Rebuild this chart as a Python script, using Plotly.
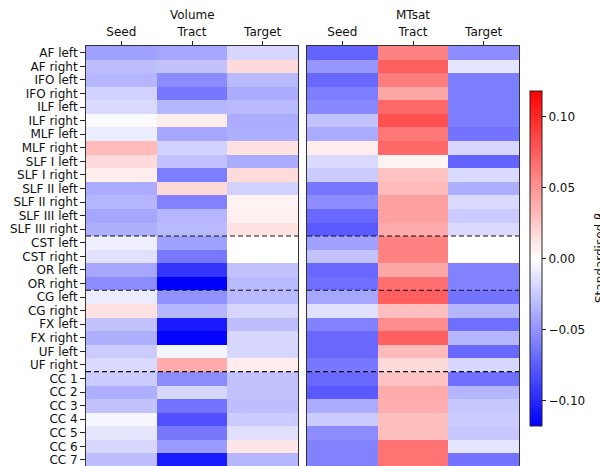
import plotly.graph_objects as go

rows = ["AF left", "AF right", "IFO left", "IFO right", "ILF left", "ILF right",
        "MLF left", "MLF right", "SLF I left", "SLF I right", "SLF II left",
        "SLF II right", "SLF III left", "SLF III right", "CST left", "CST right",
        "OR left", "OR right", "CG left", "CG right", "FX left", "FX right",
        "UF left", "UF right", "CC 1", "CC 2", "CC 3", "CC 4", "CC 5", "CC 6", "CC 7"]
columns = ["Seed", "Tract", "Target"]
panel_titles = ["Volume", "MTsat"]

volume_seed = [-0.044, -0.030, -0.034, -0.021, -0.017, -0.002, -0.009, 0.032, 0.017, 0.008,
               -0.039, -0.034, -0.041, -0.037, -0.008, -0.014, -0.041, -0.053, -0.009, 0.014,
               -0.028, -0.037, -0.024, -0.017, -0.024, -0.037, -0.028, -0.004, -0.012, -0.019, -0.030]
volume_tract = [-0.041, -0.028, -0.053, -0.063, -0.034, 0.009, -0.041, -0.021, -0.028, -0.060,
                0.018, -0.058, -0.034, -0.032, -0.044, -0.063, -0.094, -0.118, -0.051, -0.034,
                -0.106, -0.116, -0.005, 0.039, -0.053, -0.019, -0.065, -0.081, -0.063, -0.046, -0.106]
volume_target = [-0.019, 0.017, -0.032, -0.039, -0.032, -0.039, -0.037, 0.014, -0.039, 0.017,
                 -0.021, 0.005, 0.007, 0.013, 0.000, 0.000, -0.028, -0.032, -0.032, -0.019,
                 -0.030, -0.019, -0.019, 0.009, -0.028, -0.028, -0.030, -0.024, -0.014, 0.012, -0.034]

mtsat_seed = [-0.072, -0.048, -0.070, -0.060, -0.055, -0.028, -0.039, 0.009, -0.017, -0.024,
              -0.063, -0.053, -0.070, -0.077, -0.044, -0.028, -0.070, -0.067, -0.041, -0.014,
              -0.058, -0.070, -0.070, -0.063, -0.070, -0.077, -0.039, -0.024, -0.053, -0.058, -0.058]
mtsat_tract = [0.058, 0.074, 0.060, 0.041, 0.070, 0.081, 0.063, 0.070, 0.005, 0.028,
               0.032, 0.044, 0.044, 0.039, 0.058, 0.058, 0.041, 0.067, 0.074, 0.030,
               0.053, 0.074, 0.032, 0.017, 0.028, 0.039, 0.037, 0.030, 0.030, 0.065, 0.065]
mtsat_target = [-0.053, -0.012, -0.060, -0.060, -0.060, -0.060, -0.065, -0.019, -0.072, -0.017,
                -0.037, -0.017, -0.024, -0.017, 0.000, 0.000, -0.058, -0.058, -0.065, -0.034,
                -0.067, -0.034, -0.070, -0.019, -0.067, -0.034, -0.026, -0.024, -0.026, -0.012, -0.065]

group_boundaries = [13.5, 17.5, 23.5]
cbar_ticks = [-0.10, -0.05, 0.00, 0.05, 0.10]
cbar_ticktext = ["\u22120.10", "\u22120.05", "0.00", "0.05", "0.10"]
vlim = 0.118

W, H = 600, 466
FONT = "DejaVu Sans"

def z_of(a, b, c):
    return [[a[i], b[i], c[i]] for i in range(len(rows))]

fig = go.Figure()
fig.add_trace(go.Heatmap(z=z_of(volume_seed, volume_tract, volume_target),
                         x=[0, 1, 2], y=list(range(len(rows))),
                         coloraxis="coloraxis", xaxis="x", yaxis="y"))
fig.add_trace(go.Heatmap(z=z_of(mtsat_seed, mtsat_tract, mtsat_target),
                         x=[0, 1, 2], y=list(range(len(rows))),
                         coloraxis="coloraxis", xaxis="x2", yaxis="y2"))

row_h = 13.57
top_px = 46
plot_h = H - top_px
yrange = [-0.5 + plot_h / row_h, -0.5]
ytop = 1 - top_px / H

xcommon = dict(side="top", tickvals=[0, 1, 2], ticktext=columns, range=[-0.5, 2.5],
               ticks="outside", ticklen=4, tickcolor="#222", tickwidth=1,
               showline=True, linecolor="#333", linewidth=1, mirror=False,
               showgrid=False, zeroline=False,
               tickfont=dict(family=FONT, size=12, color="#111"))

fig.update_layout(
    width=W, height=H,
    margin=dict(l=0, r=0, t=0, b=0),
    paper_bgcolor="white", plot_bgcolor="white",
    font=dict(family=FONT, size=12, color="#111"),
    xaxis=dict(domain=[86 / W, 298 / W], anchor="y", **xcommon),
    xaxis2=dict(domain=[307 / W, 519 / W], anchor="y2", **xcommon),
    yaxis=dict(domain=[0, ytop], range=yrange, tickvals=list(range(len(rows))), ticktext=rows,
               ticks="outside", ticklen=5, tickcolor="#222", tickwidth=1,
               showline=True, linecolor="#333", linewidth=1, mirror=True,
               showgrid=False, zeroline=False, anchor="x",
               ticklabeloverflow="allow",
               tickfont=dict(family=FONT, size=12, color="#111")),
    yaxis2=dict(domain=[0, ytop], range=yrange, showticklabels=False, ticks="",
                showline=True, linecolor="#333", linewidth=1, mirror=True,
                showgrid=False, zeroline=False, anchor="x2"),
    coloraxis=dict(
        colorscale=[[0, "rgb(0,0,255)"], [0.5, "rgb(255,255,255)"], [1, "rgb(255,0,0)"]],
        cmin=-vlim, cmax=vlim,
        colorbar=dict(x=530 / W, xanchor="left", xref="paper",
                      y=1 - 258.5 / H, yanchor="middle", len=335 / H, lenmode="fraction",
                      thickness=12, outlinewidth=1, outlinecolor="#222",
                      tickvals=cbar_ticks, ticktext=cbar_ticktext,
                      ticks="outside", ticklen=4, tickcolor="#222",
                      tickfont=dict(family=FONT, size=12, color="#111"),
                      xpad=0, ypad=0),
    ),
)

for xa, title in zip(["x", "x2"], panel_titles):
    fig.add_annotation(x=1, xref=xa, y=1 - 15 / H, yref="paper", text=title,
                       showarrow=False, yanchor="middle",
                       font=dict(family=FONT, size=12, color="#111"))

for xa, ya in [("x", "y"), ("x2", "y2")]:
    for b in group_boundaries:
        fig.add_shape(type="line", xref=xa + " domain", x0=0, x1=1, yref=ya, y0=b, y1=b,
                      line=dict(color="#111", width=1.2, dash="5px,3px"))

fig.add_annotation(x=591 / W, xref="paper", y=1 - 258 / H, yref="paper",
                   text="Standardised \u03b2", textangle=-90, showarrow=False,
                   xanchor="left", yanchor="middle",
                   font=dict(family=FONT, size=12, color="#111"))

fig.write_html("out.html")
